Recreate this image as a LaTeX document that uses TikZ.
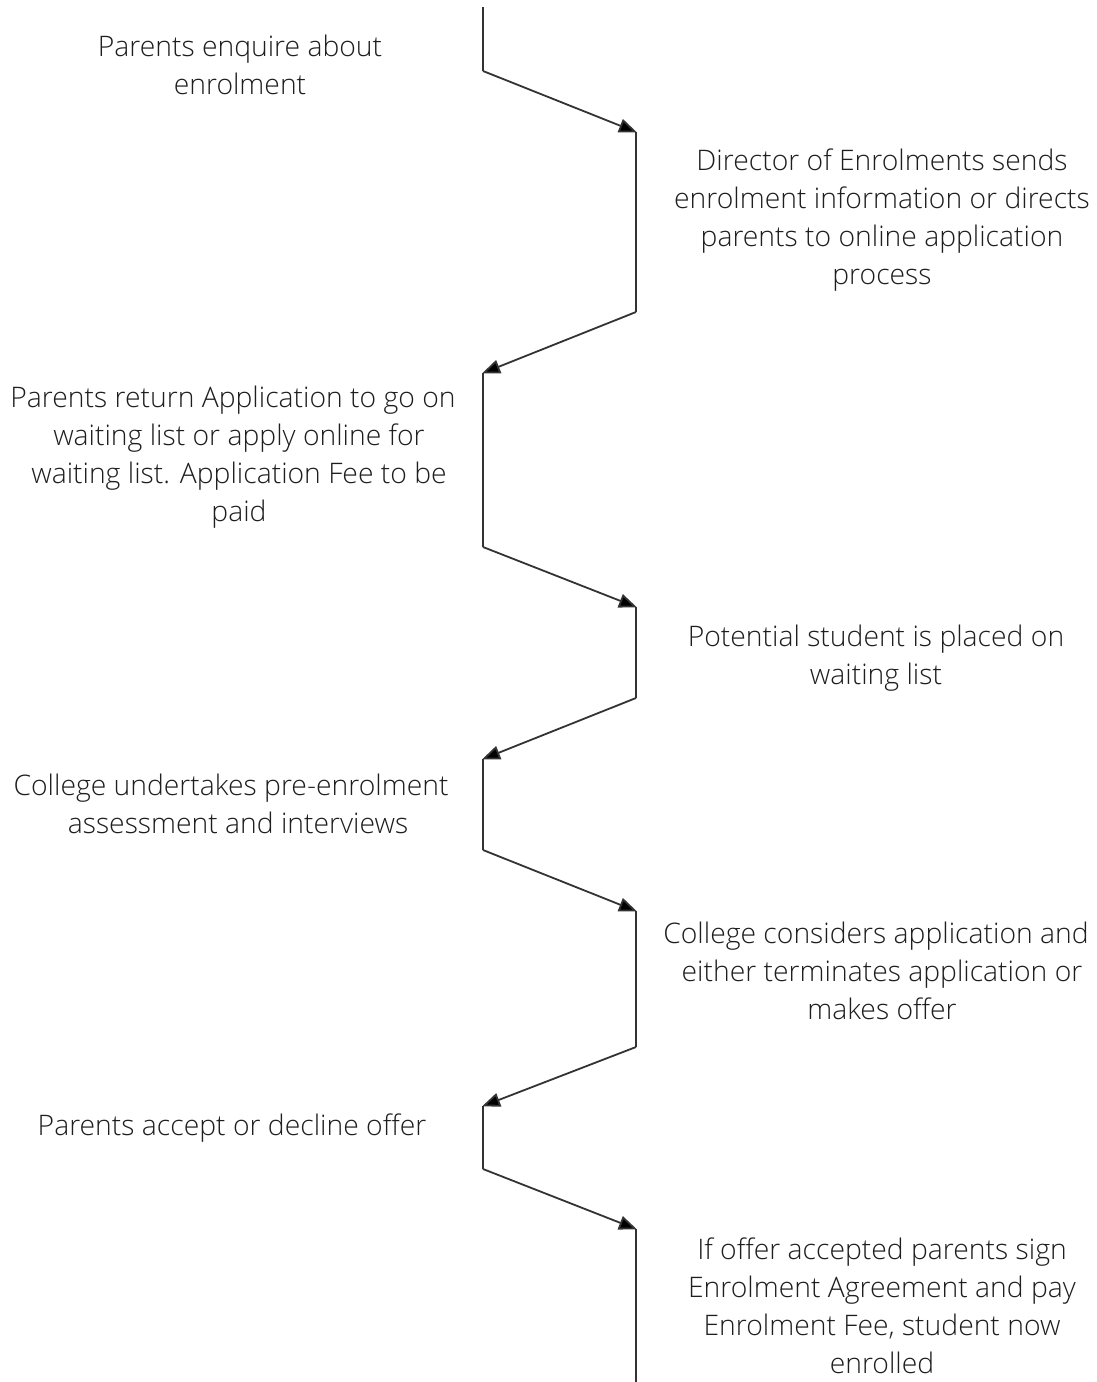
\documentclass[tikz,border=0pt]{standalone}
\usepackage{fontspec}
\setmainfont{Open Sans Light}
\usetikzlibrary{arrows.meta}
\definecolor{txt}{HTML}{1E1E1E}
\definecolor{ln}{HTML}{333333}
\newcommand{\trailsp}{\kern12pt}
\tikzset{
  lbl/.style={align=center, text=txt, inner sep=0pt, font=\fontsize{28.3}{38}\selectfont},
  seg/.style={draw=ln, line width=1.8pt},
  arr/.style={draw=ln, line width=1.8pt, -{Triangle[length=18pt,width=14pt,fill=black]}, shorten >=-1pt},
}
\begin{document}
\begin{tikzpicture}[x=1pt,y=-1pt]
\path[use as bounding box, fill=white] (0,0) rectangle (1097,1382);
% vertical segment end points
\coordinate (a1) at (483,7);    \coordinate (b1) at (483,71);
\coordinate (a2) at (636,132);  \coordinate (b2) at (636,312);
\coordinate (a3) at (483,373);  \coordinate (b3) at (483,547);
\coordinate (a4) at (636,607);  \coordinate (b4) at (636,698);
\coordinate (a5) at (483,759);  \coordinate (b5) at (483,850);
\coordinate (a6) at (636,911);  \coordinate (b6) at (636,1047);
\coordinate (a7) at (483,1106); \coordinate (b7) at (483,1169);
\coordinate (a8) at (636,1229); \coordinate (b8) at (636,1382);
\foreach \i in {1,...,8} { \draw[seg] (a\i) -- (b\i); }
\foreach \i/\j in {1/2,2/3,3/4,4/5,5/6,6/7,7/8} { \draw[arr] (b\i) -- (a\j); }
% labels
\node[lbl] (s1) at (240,65)  {Parents enquire about\\enrolment};
\node[lbl] (s2) at (882,220) {Director of Enrolments sends\\enrolment information or directs\\parents to online application\\process};
\node[lbl] (s3) at (239,457) {Parents return Application to go on\trailsp\\waiting list or apply online for\\waiting list. Application Fee to be\\paid};
\node[lbl] (s4) at (876,658) {Potential student is placed on\\waiting list};
\node[lbl] (s5) at (238,804) {College undertakes pre-enrolment\kern14pt\\assessment and interviews};
\node[lbl] (s6) at (882,971) {College considers application and\trailsp\\either terminates application or\\makes offer};
\node[lbl] (s7) at (232,1128) {Parents accept or decline offer};
\node[lbl] (s8) at (882,1306) {If offer accepted parents sign\\Enrolment Agreement and pay\\Enrolment Fee, student now\\enrolled};
\end{tikzpicture}
\end{document}
